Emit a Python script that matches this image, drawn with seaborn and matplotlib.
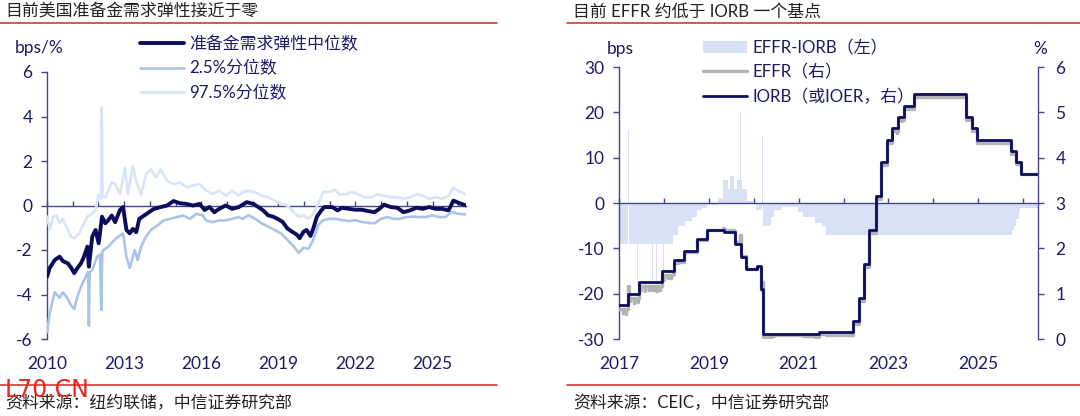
import numpy as np
import pandas as pd
import matplotlib.pyplot as plt
import seaborn as sns
from matplotlib.lines import Line2D

# ---- Données graphique gauche : élasticité de la demande de réserves ----
med_year = [2010.00, 2010.11, 2010.30, 2010.49, 2010.62, 2010.81, 2010.94, 2011.06, 2011.19, 2011.32,
            2011.44, 2011.57, 2011.63, 2011.76, 2011.89, 2012.01, 2012.14, 2012.27, 2012.39, 2012.52,
            2012.65, 2012.84, 2012.96, 2013.09, 2013.22, 2013.34, 2013.47, 2013.59, 2013.78, 2013.97,
            2014.16, 2014.42, 2014.67, 2014.92, 2015.18, 2015.43, 2015.68, 2015.94, 2016.13, 2016.32,
            2016.51, 2016.70, 2016.95, 2017.20, 2017.46, 2017.77, 2018.03, 2018.22, 2018.41, 2018.60,
            2018.79, 2018.97, 2019.16, 2019.35, 2019.54, 2019.73, 2019.83, 2019.98, 2020.10, 2020.25,
            2020.36, 2020.50, 2020.67, 2020.79, 2021.10, 2021.30, 2021.48, 2021.74, 2021.99, 2022.24,
            2022.49, 2022.74, 2022.93, 2023.11, 2023.37, 2023.62, 2023.87, 2024.12, 2024.37, 2024.62,
            2024.87, 2025.12, 2025.37, 2025.62, 2025.81, 2026.06, 2026.30]
med_val = [-3.2, -2.8, -2.45, -2.3, -2.5, -2.6, -2.8, -3.04, -2.8, -2.6,
           -2.3, -1.85, -2.75, -1.4, -1.1, -1.7, -0.5, -0.8, -0.65, -0.45,
           -0.75, -0.2, -0.07, -1.1, -1.25, -1.05, -1.2, -0.6, -0.45, -0.3,
           -0.15, -0.07, 0.0, 0.2, 0.1, 0.07, 0.0, 0.07, -0.2, -0.07,
           -0.3, -0.15, 0.0, -0.15, -0.07, 0.15, 0.07, -0.07, -0.22, -0.44,
           -0.5, -0.6, -0.73, -1.03, -1.18, -1.32, -1.47, -1.18, -1.1, -1.37,
           -1.03, -0.5, -0.22, -0.07, -0.07, -0.22, -0.1, -0.15, -0.19, -0.19,
           -0.25, -0.3, -0.15, 0.04, -0.07, -0.1, -0.3, -0.22, -0.1, -0.15,
           -0.07, -0.15, -0.15, -0.22, 0.22, 0.1, 0.0]

p025_year = [2010.00, 2010.11, 2010.30, 2010.49, 2010.62, 2010.81, 2010.94, 2011.06, 2011.19, 2011.38,
             2011.51, 2011.60, 2011.63, 2011.66, 2011.76, 2011.95, 2012.06, 2012.11, 2012.15, 2012.20,
             2012.39, 2012.58, 2012.77, 2012.96, 2013.09, 2013.22, 2013.41, 2013.53, 2013.66, 2013.85,
             2014.04, 2014.29, 2014.54, 2014.80, 2015.05, 2015.30, 2015.56, 2015.81, 2016.06, 2016.19,
             2016.44, 2016.70, 2016.95, 2017.20, 2017.46, 2017.60, 2017.85, 2018.10, 2018.35, 2018.60,
             2018.85, 2019.10, 2019.35, 2019.60, 2019.79, 2019.98, 2020.17, 2020.36, 2020.55, 2020.74,
             2020.99, 2021.24, 2021.49, 2021.74, 2021.99, 2022.24, 2022.49, 2022.74, 2022.99, 2023.24,
             2023.49, 2023.74, 2023.99, 2024.24, 2024.49, 2024.74, 2024.99, 2025.24, 2025.49, 2025.74,
             2025.99, 2026.30]
p025_val = [-5.7, -4.8, -3.9, -4.15, -3.9, -4.2, -4.5, -4.65, -4.05, -3.5,
            -3.2, -3.0, -5.4, -3.0, -2.9, -2.3, -2.2, -4.7, -2.1, -2.0,
            -1.85, -1.6, -1.4, -1.26, -2.3, -2.8, -2.0, -2.45, -1.85, -1.4,
            -1.1, -0.9, -0.67, -0.6, -0.52, -0.45, -0.6, -0.37, -0.45, -0.67,
            -0.75, -0.67, -0.67, -0.6, -0.52, -0.6, -0.44, -0.6, -0.8, -0.95,
            -1.1, -1.25, -1.54, -1.84, -2.13, -1.9, -1.95, -1.54, -0.88, -0.66,
            -0.6, -0.6, -0.66, -0.7, -0.66, -0.74, -0.78, -0.8, -0.6, -0.52,
            -0.6, -0.6, -0.52, -0.5, -0.52, -0.52, -0.44, -0.52, -0.52, -0.3,
            -0.37, -0.4]

p975_year = [2010.00, 2010.11, 2010.24, 2010.37, 2010.49, 2010.62, 2010.75, 2010.94, 2011.06, 2011.25,
             2011.44, 2011.57, 2011.76, 2011.89, 2012.01, 2012.11, 2012.13, 2012.16, 2012.27, 2012.39,
             2012.52, 2012.65, 2012.84, 2013.03, 2013.15, 2013.34, 2013.47, 2013.66, 2013.85, 2014.04,
             2014.23, 2014.42, 2014.67, 2014.92, 2015.18, 2015.43, 2015.68, 2015.94, 2016.19, 2016.44,
             2016.70, 2016.95, 2017.20, 2017.46, 2017.60, 2017.85, 2018.10, 2018.35, 2018.60, 2018.85,
             2019.10, 2019.35, 2019.60, 2019.79, 2019.98, 2020.17, 2020.36, 2020.55, 2020.74, 2020.93,
             2021.10, 2021.23, 2021.36, 2021.61, 2021.86, 2022.11, 2022.36, 2022.61, 2022.86, 2023.11,
             2023.37, 2023.62, 2023.87, 2024.12, 2024.37, 2024.62, 2024.87, 2025.12, 2025.37, 2025.62,
             2025.81, 2026.00, 2026.30]
p975_val = [-0.5, -1.1, -0.5, -0.45, -0.8, -0.6, -0.95, -1.4, -1.48, -1.25,
            -0.8, -0.5, -0.37, -0.2, 0.5, 0.3, 4.4, 0.4, 0.37, 0.67,
            1.04, 0.96, 0.5, 1.7, 0.5, 1.78, 1.1, 0.5, 1.4, 1.63,
            1.26, 1.63, 1.1, 0.96, 1.04, 0.81, 0.9, 0.96, 0.67, 0.52,
            0.67, 0.44, 0.67, 0.44, 0.6, 0.66, 0.6, 0.44, 0.37, 0.22,
            0.07, 0.0, -0.3, -0.5, -0.44, -0.6, -0.37, 0.07, 0.6, 0.6,
            0.66, 0.7, 0.5, 0.5, 0.6, 0.5, 0.37, 0.37, 0.5, 0.44,
            0.37, 0.37, 0.3, 0.37, 0.5, 0.44, 0.3, 0.37, 0.3, 0.44,
            0.8, 0.66, 0.5]

# ---- Données graphique droite : IORB (%) et écart EFFR-IORB (bps) ----
iorb_dates = [2017.00, 2017.21, 2017.45, 2017.95, 2018.22, 2018.45, 2018.74, 2018.97, 2019.33, 2019.58,
              2019.72, 2019.83, 2020.08, 2020.17, 2020.21, 2021.46, 2022.21, 2022.34, 2022.46, 2022.57,
              2022.72, 2022.84, 2022.96, 2023.09, 2023.22, 2023.34, 2023.57, 2024.72, 2024.86, 2024.97,
              2025.72, 2025.83, 2025.95, 2026.33]
iorb_vals = [0.75, 1.00, 1.25, 1.50, 1.75, 1.95, 2.20, 2.40, 2.35, 2.10,
             1.80, 1.55, 1.60, 1.10, 0.10, 0.15, 0.40, 0.90, 1.65, 2.40,
             3.15, 3.90, 4.40, 4.65, 4.90, 5.15, 5.40, 4.90, 4.65, 4.40,
             4.15, 3.90, 3.65, 3.65]

spread_dates = [2017.000, 2017.080, 2017.086, 2017.160, 2017.166, 2017.210, 2017.216, 2017.240, 2017.246,
                2017.330, 2017.336, 2017.410, 2017.416, 2017.490, 2017.496, 2017.580, 2017.586, 2017.660,
                2017.666, 2017.740, 2017.746, 2017.830, 2017.836, 2017.910, 2017.916, 2017.990, 2017.996,
                2018.080, 2018.086, 2018.160, 2018.166, 2018.210, 2018.320, 2018.470, 2018.620, 2018.730,
                2018.840, 2018.950, 2019.210, 2019.320, 2019.430, 2019.470, 2019.560, 2019.620, 2019.700,
                2019.707, 2019.730, 2019.840, 2019.990, 2020.060, 2020.190, 2020.197, 2020.210, 2020.380,
                2020.460, 2020.620, 2020.990, 2021.100, 2021.360, 2021.510, 2021.620, 2023.180, 2023.186,
                2023.300, 2023.306, 2025.750, 2025.800, 2025.850, 2025.900, 2025.930, 2026.330]
spread_vals = [-9, -18, -9, -19, -9, 16, -9, -17, -9,
               -20, -9, -18, -9, -16, -9, -19, -9, -18,
               -9, -17, -9, -20, -9, -18, -9, -19, -9,
               -16, -9, -15, -9, -7, -5, -4, -3, -1.5,
               -1, -0.5, 1, 5, 3, 6, 3, 5, 20,
               5, 3, 0.5, -0.5, -1.5, 15, -1.5, -5, -3,
               -1.5, -0.8, -2, -3, -4.5, -5, -7, -9.5, -7,
               -9, -7, -6, -5, -3.5, -2, -1, -1]

left_xlabels = [2010, 2013, 2016, 2019, 2022, 2025]
right_xlabels = [2017, 2019, 2021, 2023, 2025]

# ---- Style ----
NAVY = '#0d0d5e'
MID = '#a9c4e6'
LIGHT = '#dae4f7'
FILL = '#d8e1f5'
GREY = '#b3b3b3'
AX_C = '#45458c'
TXT_C = '#1c1c66'
RED = '#d23b35'

sns.set_theme(style='white')
plt.rcParams['font.family'] = ['Lato', 'Noto Sans CJK SC', 'DejaVu Sans']
plt.rcParams['axes.unicode_minus'] = False

W, H = 1080, 416
fig = plt.figure(figsize=(W / 100, H / 100), dpi=100)
ax1 = fig.add_axes([47 / W, 77 / H, 419 / W, 267 / H])
ax2 = fig.add_axes([619 / W, 77 / H, 419 / W, 272 / H])


def habiller(ax, x0, x1, label_years):
    ax.set_xlim(x0, x1)
    ax.set_xlabel('')
    ax.set_ylabel('')
    for s in ['top', 'right']:
        ax.spines[s].set_visible(False)
    ax.spines['left'].set_color(AX_C)
    ax.spines['bottom'].set_color(AX_C)
    ax.spines['left'].set_linewidth(1)
    ax.spines['bottom'].set_linewidth(1)
    ax.spines['bottom'].set_position(('data', 0))
    ax.set_xticks(np.arange(int(x0), int(x1) + 1))
    ax.tick_params(axis='x', bottom=True, direction='in', length=3.5, width=1,
                   color=AX_C, labelbottom=False)
    ax.tick_params(axis='y', left=True, direction='out', length=4.5, width=1,
                   color=AX_C, labelcolor=TXT_C, labelsize=12.5, pad=6)
    sec = ax.secondary_xaxis('bottom')
    sec.set_xticks(label_years, labels=[str(y) for y in label_years])
    sec.tick_params(length=0, pad=12, labelsize=12.5, labelcolor=TXT_C)
    sec.spines['bottom'].set_visible(False)


# ---- Graphique gauche ----
sns.lineplot(x=p975_year, y=p975_val, ax=ax1, color=LIGHT, linewidth=1.9,
             label='97.5%分位数', estimator=None, sort=False, zorder=3)
sns.lineplot(x=p025_year, y=p025_val, ax=ax1, color=MID, linewidth=1.9,
             label='2.5%分位数', estimator=None, sort=False, zorder=3)
sns.lineplot(x=med_year, y=med_val, ax=ax1, color=NAVY, linewidth=2.8,
             label='准备金需求弹性中位数', estimator=None, sort=False, zorder=4)
ax1.set_ylim(-6, 6)
ax1.set_yticks(np.arange(-6, 7, 2))
habiller(ax1, 2010, 2026.3, left_xlabels)

h, l = ax1.get_legend_handles_labels()
ax1.legend(h[::-1], l[::-1], loc='upper left', bbox_to_anchor=(140 / W, 1 - 36 / H),
           bbox_transform=fig.transFigure, frameon=False, fontsize=12.2, labelcolor=TXT_C,
           handlelength=2.6, handletextpad=0.3, labelspacing=0.48, borderpad=0, borderaxespad=0)

# ---- Graphique droite ----
ax2.fill_between(spread_dates, spread_vals, 0, step='post', color=FILL, lw=0,
                 label='EFFR-IORB（左）', zorder=1)
ax2.set_ylim(-30, 30)
ax2.set_yticks(np.arange(-30, 31, 10))
habiller(ax2, 2017, 2026.33, right_xlabels)

# EFFR = IORB + écart (lecture en escalier aux dates de changement)
grid = np.union1d(iorb_dates, spread_dates)
idx_i = np.searchsorted(iorb_dates, grid, side='right') - 1
idx_s = np.searchsorted(spread_dates, grid, side='right') - 1
effr = np.array(iorb_vals)[idx_i] + np.array(spread_vals)[idx_s] / 100

ax3 = ax2.twinx()
sns.lineplot(x=grid, y=effr, ax=ax3, color=GREY, linewidth=2.4, drawstyle='steps-post',
             label='EFFR（右）', estimator=None, sort=False)
sns.lineplot(x=iorb_dates, y=iorb_vals, ax=ax3, color=NAVY, linewidth=2.0, drawstyle='steps-post',
             label='IORB（或IOER，右）', estimator=None, sort=False)
ax3.set_ylim(0, 6)
ax3.set_yticks(np.arange(0, 7, 1))
ax3.set_ylabel('')
for s in ['top', 'left', 'bottom']:
    ax3.spines[s].set_visible(False)
ax3.spines['right'].set_color(AX_C)
ax3.spines['right'].set_linewidth(1)
ax3.tick_params(axis='y', right=True, direction='out', length=4.5, width=1,
                color=AX_C, labelcolor=TXT_C, labelsize=12.5, pad=8)
ax3.grid(False)

h2, l2 = ax2.get_legend_handles_labels()
h3, l3 = ax3.get_legend_handles_labels()
if ax2.get_legend():
    ax2.get_legend().remove()
ax3.legend(h2 + h3, l2 + l3, loc='upper left', bbox_to_anchor=(703 / W, 1 - 40 / H),
           bbox_transform=fig.transFigure, frameon=False, fontsize=12.2, labelcolor=TXT_C,
           handlelength=2.6, handletextpad=0.3, labelspacing=0.48, borderpad=0, borderaxespad=0)

# ---- Textes et filets ----
fig.text(5 / W, 1 - 12 / H, '目前美国准备金需求弹性接近于零', fontsize=12.2, color='#222222', va='center')
fig.text(573 / W, 1 - 12 / H, '目前 EFFR 约低于 IORB 一个基点', fontsize=12.2, color='#222222', va='center')
fig.text(15 / W, 1 - 48 / H, 'bps/%', fontsize=12.5, color=TXT_C, va='center')
fig.text(607 / W, 1 - 49 / H, 'bps', fontsize=12.5, color=TXT_C, va='center')
fig.text(1033 / W, 1 - 49 / H, '%', fontsize=12.5, color=TXT_C, va='center')
fig.text(5 / W, 1 - 403 / H, '资料来源：纽约联储，中信证券研究部', fontsize=12.2, color='#222222', va='center')
fig.text(573 / W, 1 - 403 / H, '资料来源：CEIC，中信证券研究部', fontsize=12.2, color='#222222', va='center')

for (xa, xb) in [(0, 497), (567, 1080)]:
    for yy in [23, 385]:
        fig.add_artist(Line2D([xa / W, xb / W], [1 - yy / H, 1 - yy / H], color=RED, lw=1.2,
                              transform=fig.transFigure))

# filigrane présent sur l'image d'origine
fig.text(5 / W, 1 - 390 / H, 'L70.CN', fontsize=17, color='#e8261c', va='center', family='DejaVu Sans')

fig.savefig('out.png', dpi=100)
